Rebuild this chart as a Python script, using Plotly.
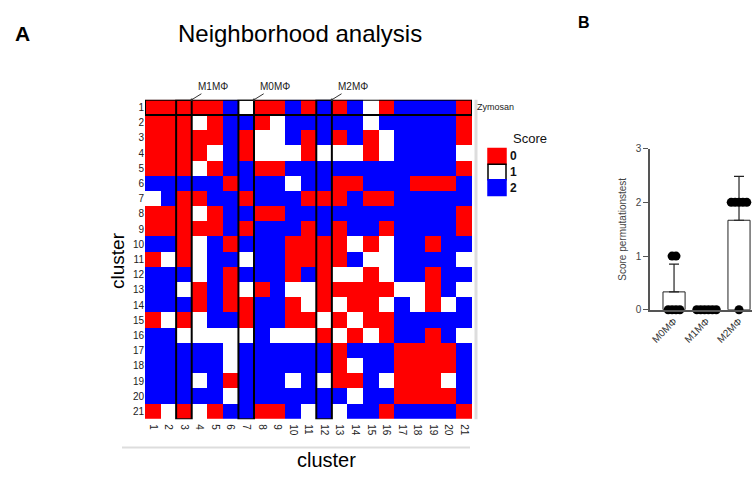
import numpy as np
import plotly.graph_objects as go

# ---------------- data ----------------
clusters = list(range(1, 22))
# Neighborhood score matrix (rows = cluster 1..21, cols = cluster 1..21); 0 red, 1 white, 2 blue
scores = [
    [0,0,0,0,0,2,1,0,0,2,0,2,0,2,1,0,2,2,2,2,0],
    [0,0,0,1,0,2,2,0,1,2,2,2,2,2,1,2,2,2,2,2,0],
    [0,0,0,0,0,2,0,1,1,2,0,2,0,2,0,1,2,2,2,2,0],
    [0,0,0,0,1,2,0,1,1,1,0,1,1,1,0,1,2,2,2,2,1],
    [0,0,0,1,0,2,2,0,0,2,2,2,2,2,2,2,2,2,2,2,0],
    [2,2,2,2,2,0,2,2,2,1,2,2,0,0,2,2,2,0,0,0,2],
    [1,2,0,0,2,2,0,2,2,2,0,0,0,2,0,0,2,2,2,2,2],
    [0,0,0,1,0,2,2,0,0,2,2,2,2,2,2,2,2,2,2,2,0],
    [0,0,0,0,0,2,0,2,2,2,0,2,0,2,2,0,2,2,2,2,0],
    [2,2,0,1,2,0,2,2,2,0,0,0,0,1,0,1,2,2,0,2,2],
    [0,1,0,1,2,2,1,2,2,0,0,0,0,2,1,1,2,2,2,2,1],
    [2,2,2,1,2,0,2,2,2,0,2,0,1,1,0,1,2,2,0,2,2],
    [2,2,1,0,2,0,1,0,2,1,1,0,0,0,0,0,1,1,0,2,1],
    [2,2,2,0,2,0,0,2,2,0,1,0,1,0,0,1,2,1,0,1,2],
    [0,1,0,1,2,2,0,2,2,0,0,1,0,1,0,0,2,2,2,2,2],
    [2,2,1,1,1,1,1,2,1,1,1,0,1,0,1,0,2,2,0,2,1],
    [2,2,2,2,2,1,2,2,2,2,2,2,0,2,2,2,0,0,0,0,2],
    [2,2,2,2,2,1,2,2,2,2,2,2,0,1,2,2,0,0,0,0,2],
    [2,2,2,1,2,0,2,2,2,1,2,1,0,0,2,1,0,0,0,1,2],
    [2,2,2,2,2,1,2,2,2,2,2,2,2,1,2,2,0,0,0,0,2],
    [0,1,0,1,0,2,2,0,0,2,1,2,1,2,2,0,2,2,2,2,0],
]
highlight_cols = [3, 7, 12]
highlight_labels = ["M1MΦ", "M0MΦ", "M2MΦ"]
highlight_rows = [1]
row1_label = "Zymosan"
score_levels = [0, 1, 2]
score_colors = ["#FF0000", "#FFFFFF", "#0000FF"]

# Panel B
macro_types = ["M0MΦ", "M1MΦ", "M2MΦ"]
perm_scores = {
    "M0MΦ": [0, 0, 0, 0, 1, 1],
    "M1MΦ": [0, 0, 0, 0, 0, 0],
    "M2MΦ": [2, 2, 2, 2, 2, 0],
}

W, H = 754, 477
FONT = "Arial, Liberation Sans, sans-serif"

def px(x):
    return x / W

def py(y):
    return 1 - y / H

fig = go.Figure()

# ---------------- Panel A heatmap ----------------
cs = [[0.0, score_colors[0]], [1/3, score_colors[0]],
      [1/3, score_colors[1]], [2/3, score_colors[1]],
      [2/3, score_colors[2]], [1.0, score_colors[2]]]
fig.add_trace(go.Heatmap(
    z=scores, x=clusters, y=clusters, zmin=0, zmax=2,
    colorscale=cs, showscale=False, xaxis="x", yaxis="y",
    hoverinfo="skip"))

shapes = []
n = len(clusters)
for c in highlight_cols:
    shapes.append(dict(type="rect", xref="x", yref="y",
                       x0=c - 0.5, x1=c + 0.5, y0=0.5, y1=n + 0.5,
                       line=dict(color="black", width=2)))
for r in highlight_rows:
    shapes.append(dict(type="rect", xref="x", yref="y",
                       x0=0.5, x1=n + 0.5, y0=r - 0.5, y1=r + 0.5,
                       line=dict(color="black", width=2)))
# light gray frame lines
shapes.append(dict(type="line", xref="paper", yref="paper",
                   x0=px(476), x1=px(476), y0=py(97), y1=py(424),
                   line=dict(color="#dddddd", width=3)))
shapes.append(dict(type="line", xref="paper", yref="paper",
                   x0=px(122), x1=px(470), y0=py(453), y1=py(453),
                   line=dict(color="#dddddd", width=2)))

# legend boxes
box_top = 147
box_h = 16
for i, (lv, col) in enumerate(zip(score_levels, score_colors)):
    y0 = box_top + i * box_h
    shapes.append(dict(type="rect", xref="paper", yref="paper",
                       x0=px(488), x1=px(506), y0=py(y0 + box_h), y1=py(y0),
                       fillcolor=col,
                       line=dict(color="black" if col == "#FFFFFF" else col, width=1.5)))

def ann(x, y, text, size, color="black", **kw):
    d = dict(x=px(x), y=py(y), xref="paper", yref="paper", text=text,
             showarrow=False, xanchor="center", yanchor="middle",
             font=dict(size=size, color=color, family=FONT))
    d.update(kw)
    return d

annotations = []
for i, lv in enumerate(score_levels):
    y0 = box_top + i * box_h
    annotations.append(ann(508, y0 + box_h / 2, f"<b>{lv}</b>", 12, "#111", xanchor="left"))
annotations.append(ann(511, 137, "Score", 13, "#111", xanchor="left"))

for c, lab in zip(highlight_cols, highlight_labels):
    annotations.append(dict(x=c + 0.5, y=0.5, xref="x", yref="y", text=lab,
                            showarrow=True, arrowhead=6, arrowsize=0.6, arrowwidth=1,
                            arrowcolor="#333", ax=21, ay=-13,
                            font=dict(size=10, color="#222", family=FONT)))
annotations.append(dict(x=n + 0.5, y=highlight_rows[0], xref="x", yref="y",
                        text=row1_label, showarrow=False, xanchor="left", xshift=3,
                        yanchor="middle",
                        font=dict(size=9, color="#222", family=FONT)))

# titles / panel letters
annotations += [
    ann(22, 29, "<b>A</b>", 21),
    ann(300, 29, "Neighborhood analysis", 24),
    ann(584, 18, "<b>B</b>", 16),
    ann(118, 262, "cluster", 19, textangle=-90),
    ann(326, 466, "cluster", 20),
    ann(623, 230, "Score permutationstest", 10, "#444", textangle=-90),
]

# ---------------- Panel B ----------------
means = [float(np.mean(perm_scores[m])) for m in macro_types]
sds = [float(np.std(perm_scores[m], ddof=1)) for m in macro_types]
xpos = list(range(len(macro_types)))
fig.add_trace(go.Bar(
    x=xpos, y=means, width=0.68, xaxis="x2", yaxis="y2",
    marker=dict(color="white", line=dict(color="#222", width=1)),
    error_y=dict(type="data", symmetric=False, array=sds,
                 arrayminus=[0] * len(sds), color="#222", thickness=1.2, width=5),
    showlegend=False, hoverinfo="skip"))

step = 0.12
pts_x, pts_y = [], []
for i, m in enumerate(macro_types):
    vals = perm_scores[m]
    for v in sorted(set(vals)):
        k = vals.count(v)
        for j in range(k):
            pts_x.append(i + (j - (k - 1) / 2) * step)
            pts_y.append(v)
fig.add_trace(go.Scatter(
    x=pts_x, y=pts_y, mode="markers", xaxis="x2", yaxis="y2",
    marker=dict(color="black", size=9), cliponaxis=False,
    showlegend=False, hoverinfo="skip"))

fig.update_layout(
    width=W, height=H,
    margin=dict(l=0, r=0, t=0, b=0),
    paper_bgcolor="white", plot_bgcolor="white",
    font=dict(family=FONT),
    xaxis=dict(domain=[px(145), px(472)], range=[0.5, n + 0.5],
               tickvals=clusters, ticktext=[str(c) for c in clusters],
               tickangle=90, tickfont=dict(size=10, color="#222"),
               ticklabelstandoff=4,
               showgrid=False, zeroline=False, showline=False, ticks="", anchor="y"),
    yaxis=dict(domain=[py(424), py(97)], range=[n + 0.5, 0.5],
               tickvals=clusters, ticktext=[str(c) for c in clusters],
               tickfont=dict(size=10, color="#222"),
               showgrid=False, zeroline=False, showline=False, ticks="", anchor="x"),
    xaxis2=dict(domain=[px(650), px(752)], range=[-0.74, 2.4],
                tickvals=xpos, ticktext=macro_types, tickangle=-45,
                tickfont=dict(size=10, color="#333"),
                showgrid=False, zeroline=False, showline=True,
                linecolor="#555", linewidth=1.5, ticks="", anchor="y2"),
    yaxis2=dict(domain=[py(312), py(147)], range=[0, 3],
                tickvals=[0, 1, 2, 3], tickfont=dict(size=10, color="#444"),
                showgrid=False, zeroline=False, showline=True,
                linecolor="#555", linewidth=1.5, ticks="outside", ticklen=5,
                tickcolor="#555", anchor="x2"),
    shapes=shapes,
    annotations=annotations,
)

fig.write_html("out.html", config={"displayModeBar": False},
               post_script="document.body.style.margin='0px';")
